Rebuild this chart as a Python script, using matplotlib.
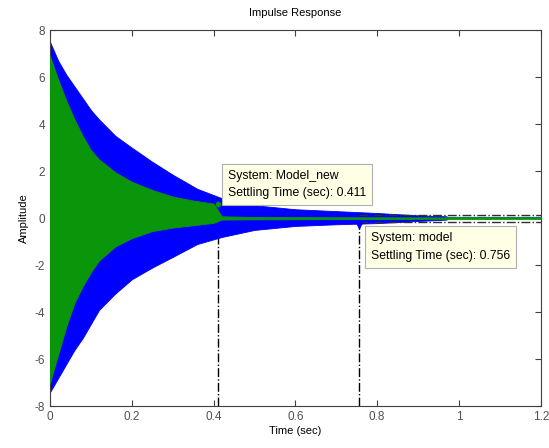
import matplotlib
matplotlib.use("Agg")
import matplotlib.pyplot as plt

plt.rcParams['font.family'] = ['Liberation Sans', 'DejaVu Sans']
plt.rcParams['axes.unicode_minus'] = False

# Envelope of the dense oscillating impulse response
t_blue = [0, 0.02, 0.04, 0.06, 0.08, 0.1, 0.12, 0.16, 0.2, 0.25, 0.3, 0.36,
          0.42, 0.5, 0.6, 0.7, 0.8, 0.9, 0.97]
blue_upper = [7.5, 6.7, 6.1, 5.6, 5.1, 4.6, 4.2, 3.5, 3.0, 2.4, 1.85, 1.25,
              0.85, 0.55, 0.38, 0.3, 0.22, 0.12, 0.08]
blue_lower = [-7.4, -6.8, -6.2, -5.6, -5.1, -4.5, -3.9, -3.2, -2.6, -2.1, -1.65, -1.1,
              -0.8, -0.5, -0.33, -0.26, -0.21, -0.12, -0.06]

t_green = [0, 0.02, 0.04, 0.06, 0.08, 0.1, 0.12, 0.16, 0.2, 0.25, 0.3, 0.35,
           0.4, 0.42, 0.5, 0.7, 1.2]
green_upper = [6.9, 5.9, 5.0, 4.2, 3.5, 2.9, 2.5, 1.95, 1.55, 1.2, 0.92, 0.75,
               0.62, 0.08, 0.05, 0.04, 0.03]
green_lower = [-7.0, -5.8, -4.6, -3.6, -2.9, -2.3, -1.8, -1.2, -0.85, -0.55, -0.4, -0.3,
               -0.2, -0.06, -0.05, -0.04, -0.03]

tail_t = [0.97, 1.2]
tail_y = [0.0, 0.0]

settle_new = 0.411
settle_model = 0.756
band = [0.15, -0.17]
tip_new_y = 0.6
tip_model_y = -0.3

x_ticks = [0, 0.2, 0.4, 0.6, 0.8, 1, 1.2]
x_labels = ['0', '0.2', '0.4', '0.6', '0.8', '1', '1.2']
y_ticks = [-8, -6, -4, -2, 0, 2, 4, 6, 8]

BLUE = '#0000ff'
GREEN = '#0a960a'
GREY = '#404040'

fig = plt.figure(figsize=(5.49, 4.48), dpi=100)
ax = fig.add_axes([0.091, 0.093, 0.894, 0.84])

# settling-time markers (drawn below the responses)
ax.plot([settle_new, settle_new], [-8, band[0]], color='black', lw=1.0,
        ls='-.', zorder=1)
ax.plot([settle_model, settle_model], [-8, band[1]], color='black', lw=1.0,
        ls='-.', zorder=1)

ax.fill_between(t_blue, blue_lower, blue_upper, color=BLUE, lw=0.6,
                edgecolor=BLUE, zorder=2)
ax.plot(tail_t, tail_y, color='#1f5fa0', lw=1.6, zorder=2)
ax.fill_between(t_green, green_lower, green_upper, color=GREEN, lw=0.6,
                edgecolor=GREEN, zorder=3)

for yb in band:
    ax.plot([settle_model, 1.2], [yb, yb], color='#303030', lw=1.0, ls='-.',
            zorder=4)

ax.plot([settle_new], [tip_new_y], 'o', ms=3, color=GREEN, zorder=5)
ax.plot([settle_model], [tip_model_y], 'v', ms=4, color=BLUE, zorder=5)

ax.set_xlim(0, 1.2)
ax.set_ylim(-8, 8)
ax.set_xticks(x_ticks)
ax.set_xticklabels(x_labels)
ax.set_yticks(y_ticks)
ax.tick_params(direction='in', top=True, right=True, length=4, width=0.8,
               colors=GREY, labelsize=8.5, labelcolor='#505050')
for s in ax.spines.values():
    s.set_color(GREY)
    s.set_linewidth(0.8)

ax.set_title('Impulse Response', fontsize=8, pad=10)
ax.set_xlabel('Time (sec)', fontsize=8, labelpad=2)
ax.set_ylabel('Amplitude', fontsize=8, labelpad=4)

box = dict(boxstyle='square,pad=0.5', facecolor='#ffffe6', edgecolor='#b0b0b0',
           linewidth=0.8)
ax.text(0.435, 2.05, 'System: Model_new\nSettling Time (sec): 0.411', fontsize=8.8,
        va='top', ha='left', bbox=box, zorder=6, linespacing=1.6)
ax.text(0.785, -0.6, 'System: model\nSettling Time (sec): 0.756', fontsize=8.8,
        va='top', ha='left', bbox=box, zorder=6, linespacing=1.6)

fig.savefig('out.png', dpi=100)
